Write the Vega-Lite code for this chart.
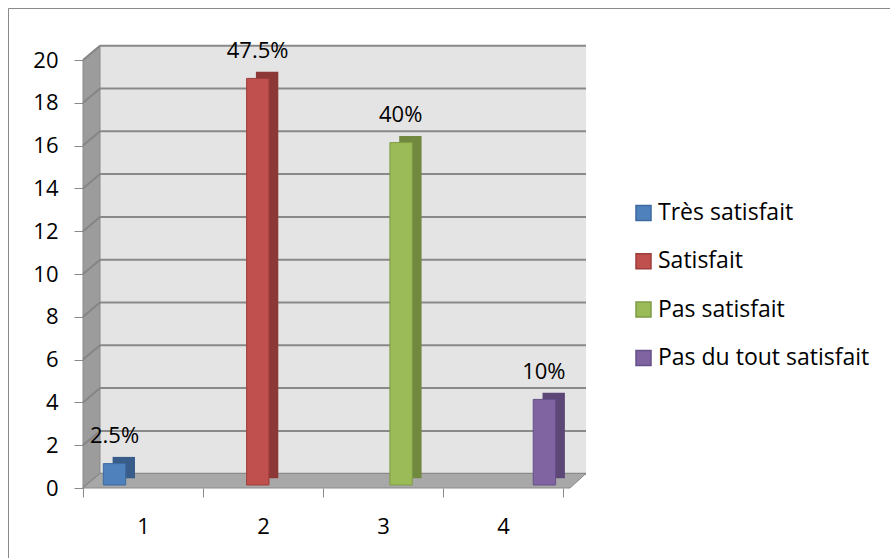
{
  "$schema": "https://vega.github.io/schema/vega-lite/v6.json",
  "width": 882,
  "height": 550,
  "autosize": "none",
  "padding": {"left": 8, "top": 8, "right": 0, "bottom": 0},
  "background": "white",
  "config": {
    "font": "Open Sans",
    "view": {"stroke": "#8a8a8a", "strokeWidth": 1, "strokeDash": [882, 1432, 550]},
    "axis": {"labelFont": "Open Sans", "labelColor": "#000000", "titleColor": "#000000"},
    "legend": {"labelFont": "Open Sans", "labelColor": "#000000"}
  },
  "datasets": {
    "responses": [
      {"cat": "1", "series": "Très satisfait", "value": 1, "label": "2.5%"},
      {"cat": "2", "series": "Satisfait", "value": 19, "label": "47.5%"},
      {"cat": "3", "series": "Pas satisfait", "value": 16, "label": "40%"},
      {"cat": "4", "series": "Pas du tout satisfait", "value": 4, "label": "10%"}
    ],
    "gridValues": [
      {"v": 0}, {"v": 2}, {"v": 4}, {"v": 6}, {"v": 8}, {"v": 10},
      {"v": 12}, {"v": 14}, {"v": 16}, {"v": 18}, {"v": 20}
    ]
  },
  "data": {"name": "responses"},
  "layer": [
    {
      "description": "back wall of the 3-D plot box, carrying the value axis",
      "data": {"values": [{}]},
      "mark": {"type": "rect", "fill": "#e4e4e4", "xOffset": 17, "x2Offset": 23, "yOffset": -14.3, "y2Offset": -14.5},
      "encoding": {
        "x": {"datum": 0, "type": "quantitative", "scale": {"domain": [0, 4], "range": [75, 555]}, "axis": null},
        "x2": {"datum": 4},
        "y": {
          "datum": 20, "type": "quantitative",
          "scale": {"domain": [0, 20], "range": [480, 52], "nice": false},
          "axis": {"orient": "left", "offset": -75, "title": null, "domain": false, "grid": false, "values": [0, 2, 4, 6, 8, 10, 12, 14, 16, 18, 20], "tickSize": 9, "tickColor": "#8a8a8a", "labelFontSize": 22, "labelPadding": 16, "zindex": 2}
        },
        "y2": {"datum": 0}
      }
    },
    {
      "description": "gridlines on the back wall",
      "data": {"name": "gridValues"},
      "mark": {"type": "rule", "stroke": "#898989", "strokeWidth": 2, "xOffset": 17, "x2Offset": 23, "yOffset": -14.3, "y2Offset": -14.3},
      "encoding": {
        "x": {"datum": 0, "type": "quantitative", "scale": {"domain": [0, 4], "range": [75, 555]}, "axis": null},
        "x2": {"datum": 4},
        "y": {"field": "v", "type": "quantitative"},
        "y2": {"field": "v"}
      }
    },
    {
      "description": "left side wall",
      "data": {"values": [{}]},
      "mark": {"type": "point", "shape": "M0,0L0,-428L17,-442.3L17,-14.5Z", "size": 4, "filled": true, "opacity": 1, "fill": "#9c9c9c", "stroke": "#8a8a8a", "strokeWidth": 1},
      "encoding": {
        "x": {"datum": 0, "type": "quantitative", "scale": {"domain": [0, 4], "range": [75, 555]}, "axis": null},
        "y": {"datum": 0, "type": "quantitative"}
      }
    },
    {
      "description": "gridlines running across the side wall",
      "data": {"name": "gridValues"},
      "mark": {"type": "rule", "stroke": "#858585", "strokeWidth": 2, "x2Offset": 17, "y2Offset": -14.3},
      "encoding": {
        "x": {"datum": 0, "type": "quantitative", "scale": {"domain": [0, 4], "range": [75, 555]}, "axis": null},
        "x2": {"datum": 0},
        "y": {"field": "v", "type": "quantitative"},
        "y2": {"field": "v"}
      }
    },
    {
      "description": "floor",
      "data": {"values": [{}]},
      "mark": {"type": "point", "shape": "M0,0L487,0L503,-14.5L17,-14.5Z", "size": 4, "filled": true, "opacity": 1, "fill": "#a8a8a8", "stroke": "#8a8a8a", "strokeWidth": 1},
      "encoding": {
        "x": {"datum": 0, "type": "quantitative", "scale": {"domain": [0, 4], "range": [75, 555]}, "axis": null},
        "y": {"datum": 0, "type": "quantitative"}
      }
    },
    {
      "description": "shaded top and side of each column",
      "mark": {"type": "bar", "yOffset": -9.7, "y2Offset": -9.7},
      "encoding": {
        "x": {"field": "cat", "type": "nominal", "scale": {"range": [75, 555], "paddingInner": 0, "paddingOuter": 0}, "axis": null},
        "xOffset": {"field": "series", "type": "nominal", "scale": {"domain": ["Très satisfait", "Satisfait", "Pas satisfait", "Pas du tout satisfait"], "range": [29.6, 121.9], "paddingInner": 0.04, "paddingOuter": 0}},
        "y": {"field": "value", "type": "quantitative"},
        "color": {"field": "series", "type": "nominal", "scale": {"domain": ["Satisfait", "Très satisfait", "Pas satisfait", "Pas du tout satisfait"], "range": ["#8c3836", "#385d8a", "#71893f", "#5c4776"]}, "legend": null}
      }
    },
    {
      "description": "front face of each column, with the category axis and legend",
      "mark": {"type": "bar", "strokeWidth": 1, "yOffset": -3, "y2Offset": -3},
      "encoding": {
        "x": {
          "field": "cat", "type": "nominal",
          "scale": {"range": [75, 555], "paddingInner": 0, "paddingOuter": 0},
          "axis": {"orient": "bottom", "offset": -70, "title": null, "domain": false, "grid": false, "labelAngle": 0, "tickBand": "extent", "tickSize": 9, "tickColor": "#8a8a8a", "labelFontSize": 22, "labelPadding": 19}
        },
        "xOffset": {"field": "series", "type": "nominal", "scale": {"domain": ["Très satisfait", "Satisfait", "Pas satisfait", "Pas du tout satisfait"], "range": [20.3, 112.6], "paddingInner": 0.04, "paddingOuter": 0}},
        "y": {"field": "value", "type": "quantitative"},
        "fill": {
          "field": "series", "type": "nominal",
          "scale": {"domain": ["Très satisfait", "Satisfait", "Pas satisfait", "Pas du tout satisfait"], "range": ["#4f81bd", "#c0504d", "#9bbb59", "#8064a2"]},
          "legend": {"orient": "none", "legendX": 624, "legendY": 193.5, "title": null, "symbolType": "square", "symbolSize": 225, "symbolStrokeWidth": 1.5, "labelFontSize": 23, "labelLimit": 400, "rowPadding": 24.3, "labelOffset": 3, "padding": 0, "zindex": 2}
        },
        "stroke": {
          "field": "series", "type": "nominal",
          "scale": {"domain": ["Très satisfait", "Satisfait", "Pas satisfait", "Pas du tout satisfait"], "range": ["#3d6a9f", "#9c3e3b", "#7f9c45", "#65508a"]},
          "legend": {"orient": "none", "legendX": 624, "legendY": 193.5, "title": null, "symbolType": "square", "symbolSize": 225, "symbolStrokeWidth": 1.5, "labelFontSize": 23, "labelLimit": 400, "rowPadding": 24.3, "labelOffset": 3, "padding": 0, "zindex": 2}
        }
      }
    },
    {
      "description": "percentage labels above the columns",
      "mark": {"type": "text", "fontSize": 22, "align": "center", "baseline": "alphabetic", "yOffset": -23.4, "color": "#000000"},
      "encoding": {
        "x": {"field": "cat", "type": "nominal", "scale": {"range": [75, 555], "paddingInner": 0, "paddingOuter": 0}, "axis": null},
        "xOffset": {"field": "series", "type": "nominal", "scale": {"type": "point", "domain": ["Très satisfait", "Satisfait", "Pas satisfait", "Pas du tout satisfait"], "range": [31.5, 100.8], "padding": 0}},
        "y": {"field": "value", "type": "quantitative"},
        "text": {"field": "label"}
      }
    }
  ],
  "resolve": {"scale": {"x": "independent", "xOffset": "independent"}}
}
